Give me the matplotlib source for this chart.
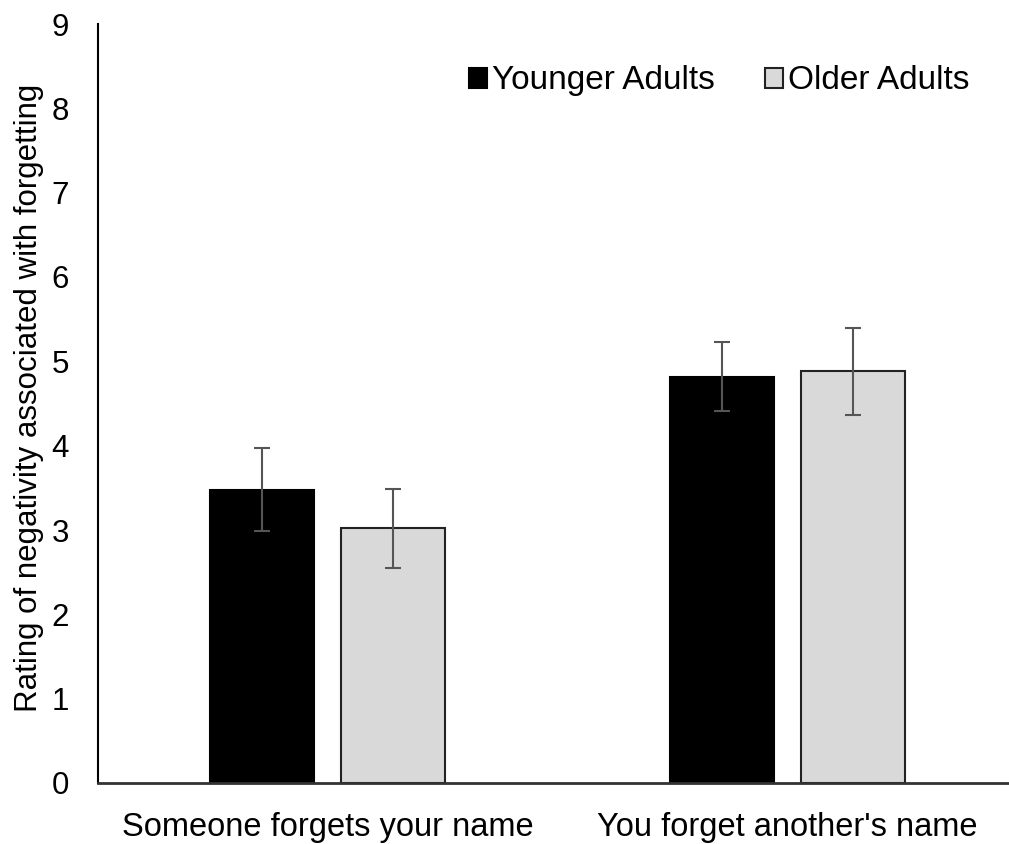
import numpy as np
import matplotlib.pyplot as plt

plt.rcParams['font.family'] = ['Liberation Sans', 'DejaVu Sans']

categories = ["Someone forgets your name", "You forget another's name"]
younger = [3.48, 4.82]
younger_err = [0.49, 0.41]
older = [3.02, 4.88]
older_err = [0.47, 0.52]
y_ticks = [0, 1, 2, 3, 4, 5, 6, 7, 8, 9]


def main():
    fig = plt.figure(figsize=(10.09, 8.44), dpi=100)
    ax = fig.add_axes([98 / 1009, 61 / 844, 1 - 98 / 1009, 759 / 844])

    x = np.arange(len(categories))
    w = 0.226
    off = 0.143
    err_kw = dict(ecolor='#555555', elinewidth=1.5, capsize=6, capthick=1.5)

    ax.bar(x - off, younger, w, yerr=younger_err, color='black',
           edgecolor='black', linewidth=1.5, label='Younger Adults', error_kw=err_kw)
    ax.bar(x + off, older, w, yerr=older_err, color='#d9d9d9',
           edgecolor='#222222', linewidth=1.5, label='Older Adults', error_kw=err_kw)

    ax.set_xlim(-0.499, 1.481)
    ax.set_ylim(0, 9)
    ax.set_yticks(y_ticks)
    ax.set_xticks(x)
    ax.set_xticklabels(categories, fontsize=23.5)
    ax.tick_params(axis='y', length=0, labelsize=22.5, pad=21)
    ax.tick_params(axis='x', length=0, pad=21)
    ax.set_ylabel('Rating of negativity associated with forgetting', fontsize=22.5)
    ax.yaxis.set_label_coords(-0.059, 0.508)

    for s in ['top', 'right']:
        ax.spines[s].set_visible(False)
    ax.spines['left'].set_linewidth(1.5)
    ax.spines['bottom'].set_linewidth(2)
    ax.spines['bottom'].set_color('#333333')

    ax.legend(loc='upper right', bbox_to_anchor=(0.99, 0.985), ncol=2, frameon=False,
              fontsize=24, handlelength=0.55, handleheight=0.55, handletextpad=0.15,
              columnspacing=1.5)

    fig.savefig('out.png', dpi=100)


if __name__ == "__main__":
    main()
